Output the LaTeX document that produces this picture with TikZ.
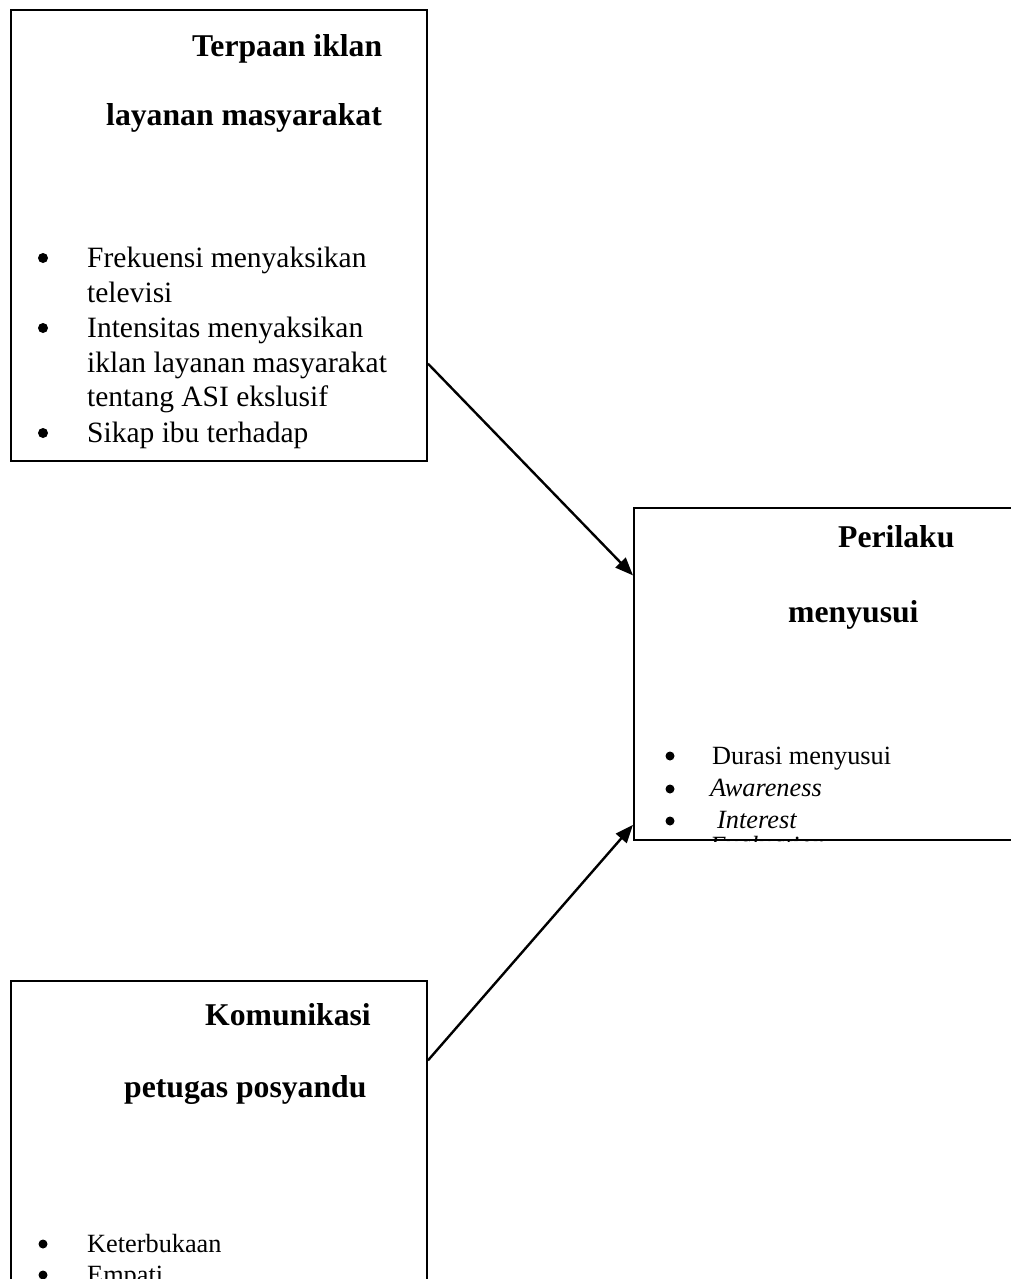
\documentclass[tikz,border=0pt]{standalone}
\usepackage{fontspec}
\setmainfont{Liberation Serif}
\usetikzlibrary{arrows.meta,calc}
\tikzset{
  boxframe/.style={draw, line width=2pt, rectangle, inner sep=0pt, anchor=north west},
  txt/.style={anchor=base west, inner sep=0pt},
  ttl/.style={txt, font=\fontsize{31.7}{38}\selectfont\bfseries},
  lone/.style={txt, font=\fontsize{29.5}{35}\selectfont},
  ltwo/.style={txt, font=\fontsize{26.3}{32}\selectfont},
  conn/.style={line width=2.4pt, -{Triangle[length=18pt,width=14pt]}},
}
\begin{document}
\begin{tikzpicture}[x=1pt,y=-1pt]
\useasboundingbox (0,0) rectangle (1011,1279);
\clip (0,0) rectangle (1011,1279);
% boxes
\node[boxframe, minimum width=387pt, minimum height=332pt] (b2) at (633,507) {};
\node[boxframe, minimum width=416pt, minimum height=451pt] (b1) at (10,9) {};
\node[boxframe, minimum width=416pt, minimum height=330pt] (b3) at (10,980) {};
% box 1 text
\node[ttl] (t1a) at (192,57) {Terpaan iklan};
\node[ttl] (t1b) at (106,125) {layanan masyarakat};
\fill (43,258) circle (5pt);
\node[lone] (l1a) at (87,267) {Frekuensi menyaksikan};
\node[lone] (l1b) at (87,302) {televisi};
\fill (43,328) circle (5pt);
\node[lone] (l1c) at (87,337) {Intensitas menyaksikan};
\node[lone] (l1d) at (87,372) {iklan layanan masyarakat};
\node[lone] (l1e) at (87,406) {tentang ASI ekslusif};
\fill (43,433) circle (5pt);
\node[lone] (l1f) at (87,442) {Sikap ibu terhadap};
% box 2 text
\node[ttl] (t2a) at (838,547) {Perilaku};
\node[ttl] (t2b) at (788,622) {menyusui};
\fill (670,756) circle (4.5pt);
\node[ltwo] (l2a) at (712,764) {Durasi menyusui};
\fill (670,789) circle (4.5pt);
\node[ltwo] (l2b) at (710,796) {\itshape Awareness};
\fill (670,821) circle (4.5pt);
\node[ltwo] (l2c) at (717,828) {\itshape Interest};
\begin{scope}
\clip (b2.north west) rectangle (b2.south east);
\fill (670,847) circle (4.5pt);
\node[ltwo] (l2d) at (710,854) {\itshape Evaluation};
\end{scope}
% box 3 text
\node[ttl] (t3a) at (205,1025) {Komunikasi};
\node[ttl] (t3b) at (124,1097) {petugas posyandu};
\fill (43,1244) circle (4.5pt);
\node[ltwo] (l3a) at (87,1252) {Keterbukaan};
\fill (43,1275) circle (4.5pt);
\node[ltwo] (l3b) at (87,1283) {Empati};
% connectors
\draw[conn] ($(b1.north east)!0.783!(b1.south east)$) -- ($(b2.north west)!0.2048!(b2.south west)$);
\draw[conn] ($(b3.north east)!0.242!(b3.south east)$) -- ($(b2.north west)!0.9518!(b2.south west)$);
\end{tikzpicture}
\end{document}
